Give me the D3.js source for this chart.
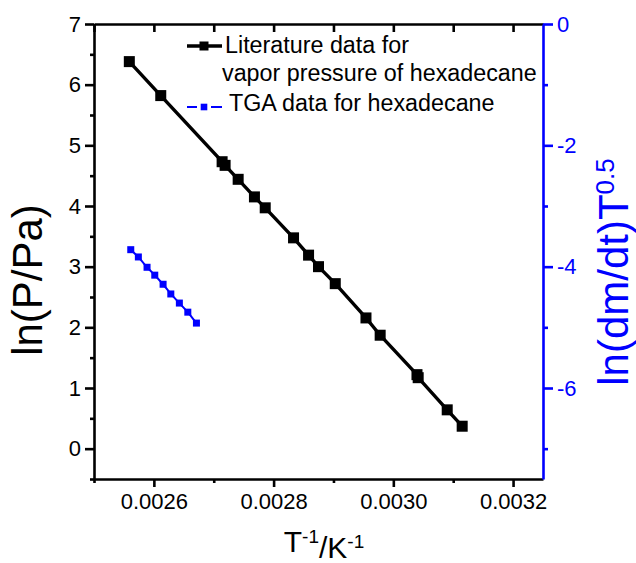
<!DOCTYPE html>
<html>
<head>
<meta charset="utf-8">
<script src="https://cdn.jsdelivr.net/npm/d3@7"></script>
<style>
  html, body { margin: 0; padding: 0; background: #fff; }
  svg { display: block; font-family: "Liberation Sans", Arial, sans-serif; }
</style>
</head>
<body>
<svg id="chart" width="636" height="563"></svg>
<script>
// Literature vapour pressure of hexadecane: 1/T (K^-1) vs ln(P/Pa)
const litInvT = [0.002559, 0.0026115, 0.002714, 0.002719, 0.0027408, 0.002768, 0.002786,
                 0.0028333, 0.0028584, 0.002875, 0.002903, 0.0029543, 0.002978,
                 0.0030395, 0.0030415, 0.00309, 0.003115];
const litLnP = [6.38, 5.82, 4.73, 4.67, 4.44, 4.15, 3.97,
                3.475, 3.19, 3.0, 2.72, 2.155, 1.87,
                1.22, 1.17, 0.64, 0.37];

// TGA data for hexadecane: 1/T vs ln(dm/dt)T^0.5 (right axis)
const tgaInvT = [0.0025614, 0.0025741, 0.0025886, 0.0026015, 0.0026154,
                 0.0026283, 0.0026426, 0.0026567, 0.0026711];
const tgaRate = [-3.72, -3.84, -4.01, -4.14, -4.29, -4.45, -4.60, -4.75, -4.93];

// Axis ticks
const xMajor = [0.0026, 0.0028, 0.0030, 0.0032];
const xMinor = [0.0025, 0.0027, 0.0029, 0.0031];
const xTop = [0.0025, 0.0026, 0.0027, 0.0028, 0.0029, 0.0030, 0.0031, 0.0032];
const yLeftMajor = [0, 1, 2, 3, 4, 5, 6, 7];
const yLeftMinor = [-0.5, 0.5, 1.5, 2.5, 3.5, 4.5, 5.5, 6.5];
const yRightMajor = [0, -2, -4, -6];
const yRightMinor = [-1, -3, -5, -7];

const legendLabels = [["Literature data for", "vapor pressure of hexadecane"], ["TGA data for hexadecane"]];

const BLUE = "#0000ff";
const plot = { left: 94, top: 24, right: 543, bottom: 479 };

const svg = d3.select("#chart");

const x = d3.scaleLinear().domain([0.0025, 0.00325]).range([plot.left, plot.right]);
const yL = d3.scaleLinear().domain([-0.5, 7]).range([plot.bottom, plot.top]);
const yR = d3.scaleLinear().domain([-7.5, 0]).range([plot.bottom, plot.top]);

function styleAxis(g, color, width) {
  g.select(".domain").attr("stroke", color).attr("stroke-width", width);
  g.selectAll(".tick line").attr("stroke", color).attr("stroke-width", width);
  g.selectAll(".tick text").attr("fill", color).style("font-size", "22px")
    .style("font-family", "'Liberation Sans', Arial, sans-serif");
}

const fmtX = d3.format(".4f");

// Bottom axis
const gBottom = svg.append("g").attr("transform", `translate(0,${plot.bottom})`);
gBottom.call(d3.axisBottom(x).tickValues(xMinor).tickSize(4).tickFormat("").tickSizeOuter(0));
styleAxis(gBottom, "#000", 2.6);
const gBottomMaj = svg.append("g").attr("transform", `translate(0,${plot.bottom})`);
gBottomMaj.call(d3.axisBottom(x).tickValues(xMajor).tickSize(8).tickPadding(6).tickFormat(fmtX).tickSizeOuter(0));
styleAxis(gBottomMaj, "#000", 2.6);
gBottomMaj.select(".domain").remove();

// Top axis (ticks pointing into the plot)
const gTop = svg.append("g").attr("transform", `translate(0,${plot.top})`);
gTop.call(d3.axisTop(x).tickValues(xTop).tickSize(-8).tickFormat("").tickSizeOuter(0));
styleAxis(gTop, "#000", 2.6);

// Left axis
const gLeft = svg.append("g").attr("transform", `translate(${plot.left},0)`);
gLeft.call(d3.axisLeft(yL).tickValues(yLeftMinor).tickSize(4).tickFormat("").tickSizeOuter(0));
styleAxis(gLeft, "#000", 2.6);
const gLeftMaj = svg.append("g").attr("transform", `translate(${plot.left},0)`);
gLeftMaj.call(d3.axisLeft(yL).tickValues(yLeftMajor).tickSize(9).tickPadding(4).tickFormat(d3.format("d")).tickSizeOuter(0));
styleAxis(gLeftMaj, "#000", 2.6);
gLeftMaj.select(".domain").remove();

// Right axis (blue)
const gRight = svg.append("g").attr("transform", `translate(${plot.right},0)`);
gRight.call(d3.axisRight(yR).tickValues(yRightMinor).tickSize(5).tickFormat("").tickSizeOuter(0));
styleAxis(gRight, BLUE, 2.6);
const gRightMaj = svg.append("g").attr("transform", `translate(${plot.right},0)`);
gRightMaj.call(d3.axisRight(yR).tickValues(yRightMajor).tickSize(10).tickPadding(4)
  .tickFormat(d => d === 0 ? "0" : "-" + Math.abs(d)).tickSizeOuter(0));
styleAxis(gRightMaj, BLUE, 2.6);
gRightMaj.select(".domain").remove();

// Literature series
const litData = litInvT.map((v, i) => ({ x: v, y: litLnP[i] }));
svg.append("path")
  .datum(litData)
  .attr("fill", "none").attr("stroke", "#000").attr("stroke-width", 3.4)
  .attr("d", d3.line().x(d => x(d.x)).y(d => yL(d.y)));
const litSize = 11;
svg.append("g").selectAll("rect").data(litData).join("rect")
  .attr("x", d => x(d.x) - litSize / 2).attr("y", d => yL(d.y) - litSize / 2)
  .attr("width", litSize).attr("height", litSize).attr("fill", "#000");

// TGA series
const tgaData = tgaInvT.map((v, i) => ({ x: v, y: tgaRate[i] }));
svg.append("path")
  .datum(tgaData)
  .attr("fill", "none").attr("stroke", BLUE).attr("stroke-width", 2)
  .attr("d", d3.line().x(d => x(d.x)).y(d => yR(d.y)));
const tgaSize = 7;
svg.append("g").selectAll("rect").data(tgaData).join("rect")
  .attr("x", d => x(d.x) - tgaSize / 2).attr("y", d => yR(d.y) - tgaSize / 2)
  .attr("width", tgaSize).attr("height", tgaSize).attr("fill", BLUE);

// Legend
const leg = svg.append("g");
leg.append("line").attr("x1", 187).attr("x2", 222).attr("y1", 46).attr("y2", 46)
  .attr("stroke", "#000").attr("stroke-width", 3.4);
leg.append("rect").attr("x", 204 - 4.5).attr("y", 46 - 4.5).attr("width", 9).attr("height", 9).attr("fill", "#000");
leg.append("line").attr("x1", 187).attr("x2", 197).attr("y1", 107).attr("y2", 107)
  .attr("stroke", BLUE).attr("stroke-width", 2);
leg.append("line").attr("x1", 211).attr("x2", 222).attr("y1", 107).attr("y2", 107)
  .attr("stroke", BLUE).attr("stroke-width", 2);
leg.append("rect").attr("x", 204 - 3.3).attr("y", 107 - 3.3).attr("width", 6.6).attr("height", 6.6).attr("fill", BLUE);

const legText = leg.append("g").style("font-size", "23.3px").attr("fill", "#000");
legText.append("text").attr("x", 225).attr("y", 53).text(legendLabels[0][0]);
legText.append("text").attr("x", 222).attr("y", 81).text(legendLabels[0][1]);
legText.append("text").attr("x", 229).attr("y", 111).text(legendLabels[1][0]);

// Axis titles
svg.append("text")
  .attr("transform", "translate(42,280) rotate(-90)")
  .attr("text-anchor", "middle").style("font-size", "42px").attr("fill", "#000")
  .text("ln(P/Pa)");

const rTitle = svg.append("text")
  .attr("transform", "translate(628,272) rotate(-90)")
  .attr("text-anchor", "middle").style("font-size", "42px").attr("fill", BLUE);
rTitle.append("tspan").text("ln(dm/dt)T");
rTitle.append("tspan").attr("dy", "-0.55em").style("font-size", "26px").text("0.5");

const xTitle = svg.append("text")
  .attr("x", 324).attr("y", 552)
  .attr("text-anchor", "middle").style("font-size", "30px").attr("fill", "#000");
xTitle.append("tspan").text("T");
xTitle.append("tspan").attr("dy", "-0.5em").style("font-size", "19px").text("-1");
xTitle.append("tspan").attr("dy", "0.5em").text("/K");
xTitle.append("tspan").attr("dy", "-0.5em").style("font-size", "19px").text("-1");
</script>
</body>
</html>
